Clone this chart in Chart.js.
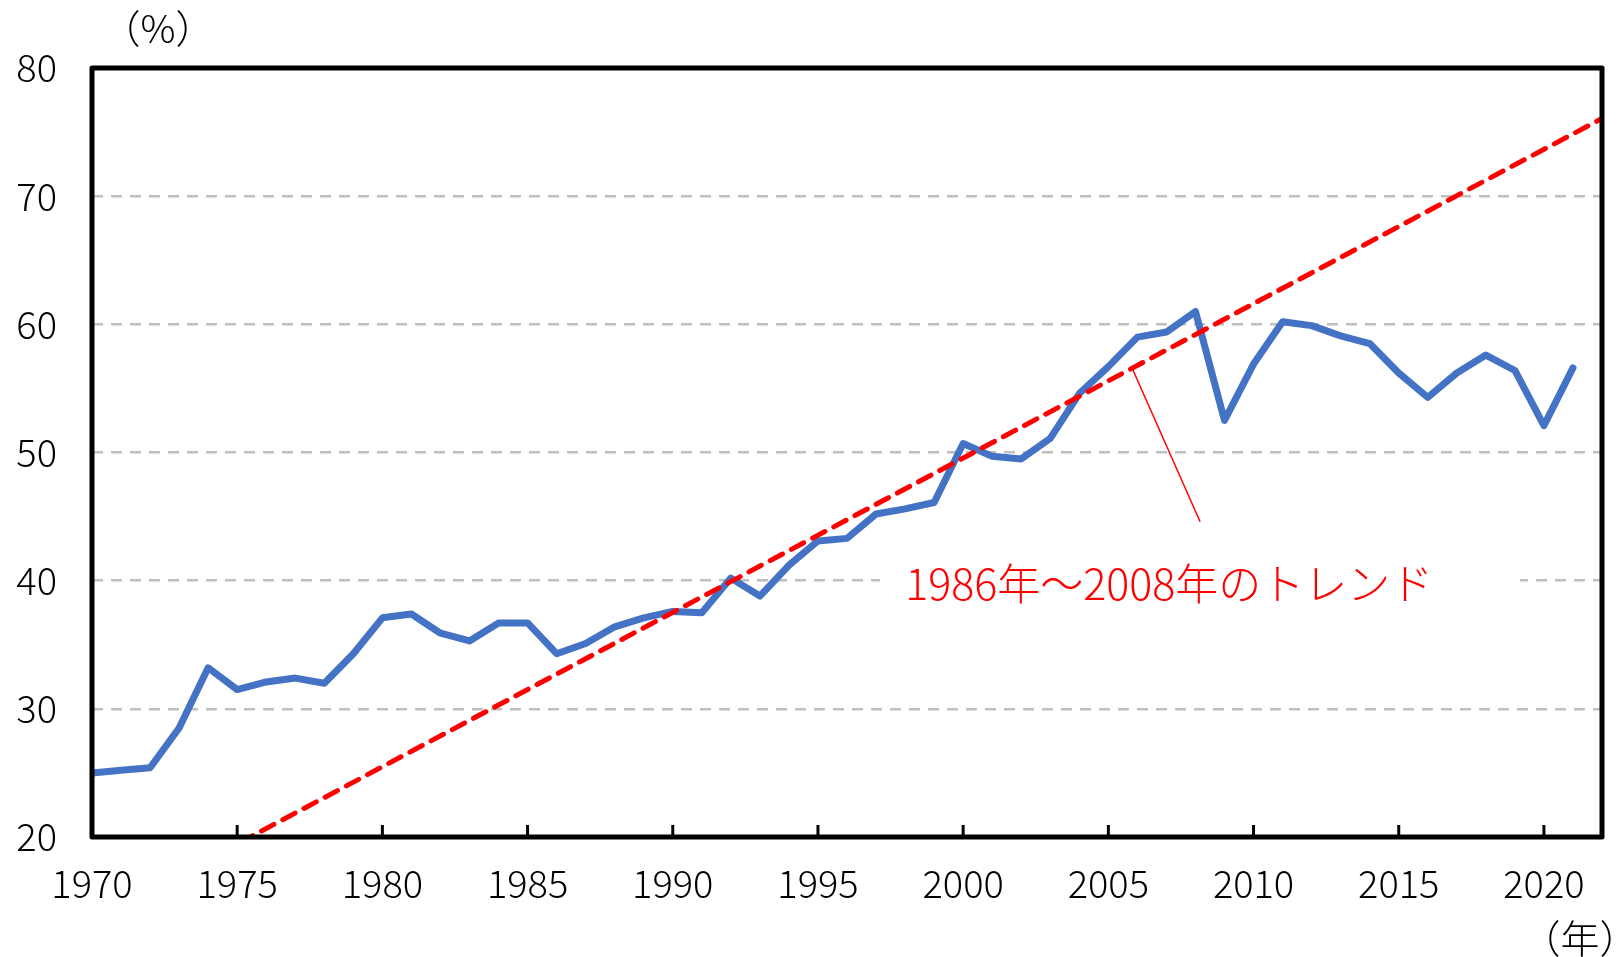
<!DOCTYPE html>
<html><head><meta charset="utf-8">
<script src="https://cdn.jsdelivr.net/npm/chart.js@4/dist/chart.umd.min.js"></script>
<style>html,body{margin:0;padding:0;background:#fff;overflow:hidden}</style>
</head><body>
<canvas id="c" width="1620" height="957" style="width:1620px;height:957px;display:block"></canvas>
<script>
// ---- data ----
const years = [1970,1971,1972,1973,1974,1975,1976,1977,1978,1979,
               1980,1981,1982,1983,1984,1985,1986,1987,1988,1989,
               1990,1991,1992,1993,1994,1995,1996,1997,1998,1999,
               2000,2001,2002,2003,2004,2005,2006,2007,2008,2009,
               2010,2011,2012,2013,2014,2015,2016,2017,2018,2019,
               2020,2021];
const values = [25.0,25.2,25.4,28.5,33.2,31.5,32.1,32.4,32.0,34.3,
                37.1,37.4,35.9,35.3,36.7,36.7,34.3,35.1,36.4,37.1,
                37.6,37.5,40.2,38.8,41.2,43.1,43.3,45.2,45.6,46.1,
                50.7,49.7,49.5,51.1,54.6,56.7,59.0,59.4,61.0,52.5,
                56.9,60.2,59.9,59.1,58.5,56.2,54.3,56.2,57.6,56.4,
                52.1,56.6];
const trendYears = [1970, 2022];
const trendValues = [13.44, 76.06];
const xTickLabels = ['1970','1975','1980','1985','1990','1995','2000','2005','2010','2015','2020'];
const yTickLabels = ['20','30','40','50','60','70','80'];
const unitY = '（%）';
const unitX = '（年）';
const noteText = '1986年～2008年のトレンド';
const notePos = [2007.1, 39.73];            // text centre (year, %)
const noteBox = [1997.14, 2019.17, 37.8, 41.7]; // white background (years, %)
const leader = [[2005.82, 56.57], [2008.16, 44.60]];

const FONT = "'Noto Sans CJK JP','Noto Sans',sans-serif";

const decor = {
  id: 'decor',
  afterDatasetsDraw(chart) {
    const {ctx, scales: {x, y}} = chart;
    ctx.save();
    ctx.fillStyle = '#ffffff';
    const bx1 = x.getPixelForValue(noteBox[0]), bx2 = x.getPixelForValue(noteBox[1]);
    const by1 = y.getPixelForValue(noteBox[3]), by2 = y.getPixelForValue(noteBox[2]);
    ctx.fillRect(bx1, by1, bx2 - bx1, by2 - by1);
    ctx.strokeStyle = '#FF0000';
    ctx.lineWidth = 1.5;
    ctx.beginPath();
    ctx.moveTo(x.getPixelForValue(leader[0][0]), y.getPixelForValue(leader[0][1]));
    ctx.lineTo(x.getPixelForValue(leader[1][0]), y.getPixelForValue(leader[1][1]));
    ctx.stroke();
    ctx.fillStyle = '#FF0000';
    ctx.font = '300 43px ' + FONT;
    ctx.textAlign = 'center';
    ctx.textBaseline = 'middle';
    ctx.fillText(noteText, x.getPixelForValue(notePos[0]), y.getPixelForValue(notePos[1]));
    ctx.restore();
  },
  afterDraw(chart) {
    const {ctx, chartArea: a, scales: {x}} = chart;
    ctx.save();
    ctx.strokeStyle = '#000';
    ctx.lineWidth = 3;
    x.ticks.forEach(t => {
      const px = x.getPixelForValue(t.value);
      if (px <= a.left + 3 || px >= a.right - 3) return;
      ctx.beginPath();
      ctx.moveTo(px, a.bottom);
      ctx.lineTo(px, a.bottom - 12);
      ctx.stroke();
    });
    ctx.lineWidth = 5;
    ctx.lineJoin = 'round';
    ctx.strokeRect(a.left, a.top, a.right - a.left, a.bottom - a.top);
    ctx.fillStyle = '#000';
    ctx.font = '300 39px ' + FONT;
    ctx.textAlign = 'center';
    ctx.textBaseline = 'middle';
    ctx.fillText(unitY, 158, 28);
    ctx.fillText(unitX, 1580, 938);
    ctx.restore();
  }
};

new Chart(document.getElementById('c'), {
  type: 'line',
  data: {
    datasets: [
      {
        label: 'trend',
        data: trendYears.map((yr, i) => ({x: yr, y: trendValues[i]})),
        borderColor: '#FF0000',
        borderWidth: 5,
        borderDash: [14, 10],
        borderCapStyle: 'round',
        pointRadius: 0,
        fill: false,
        order: 0
      },
      {
        label: 'series',
        data: years.map((yr, i) => ({x: yr, y: values[i]})),
        borderColor: '#4472C4',
        borderWidth: 7,
        borderJoinStyle: 'round',
        borderCapStyle: 'round',
        pointRadius: 0,
        tension: 0,
        fill: false,
        order: 1
      }
    ]
  },
  options: {
    responsive: false,
    animation: false,
    events: [],
    layout: {padding: {top: 68, right: 18, left: 0, bottom: 0}},
    plugins: {legend: {display: false}, tooltip: {enabled: false}, title: {display: false}},
    scales: {
      x: {
        type: 'linear',
        min: 1970, max: 2022,
        afterFit: s => { s.height = 120; },
        grid: {display: false, drawTicks: false},
        border: {display: false},
        ticks: {
          stepSize: 5,
          includeBounds: false,
          autoSkip: false,
          maxRotation: 0,
          padding: 24,
          color: '#000',
          font: {family: FONT, size: 38, weight: '300'},
          callback: v => xTickLabels.includes(String(v)) ? xTickLabels[xTickLabels.indexOf(String(v))] : ''
        }
      },
      y: {
        min: 20, max: 80,
        afterFit: s => { s.width = 92; },
        grid: {
          drawTicks: false,
          lineWidth: 2.5,
          color: c => (c.tick && (c.tick.value === 20 || c.tick.value === 80)) ? 'rgba(0,0,0,0)' : '#BFBFBF'
        },
        border: {display: false, dash: [11, 8]},
        ticks: {
          stepSize: 10,
          padding: 35,
          color: '#000',
          font: {family: FONT, size: 38, weight: '300'},
          callback: v => yTickLabels.includes(String(v)) ? String(v) : ''
        }
      }
    }
  },
  plugins: [decor]
});
</script>
</body></html>
